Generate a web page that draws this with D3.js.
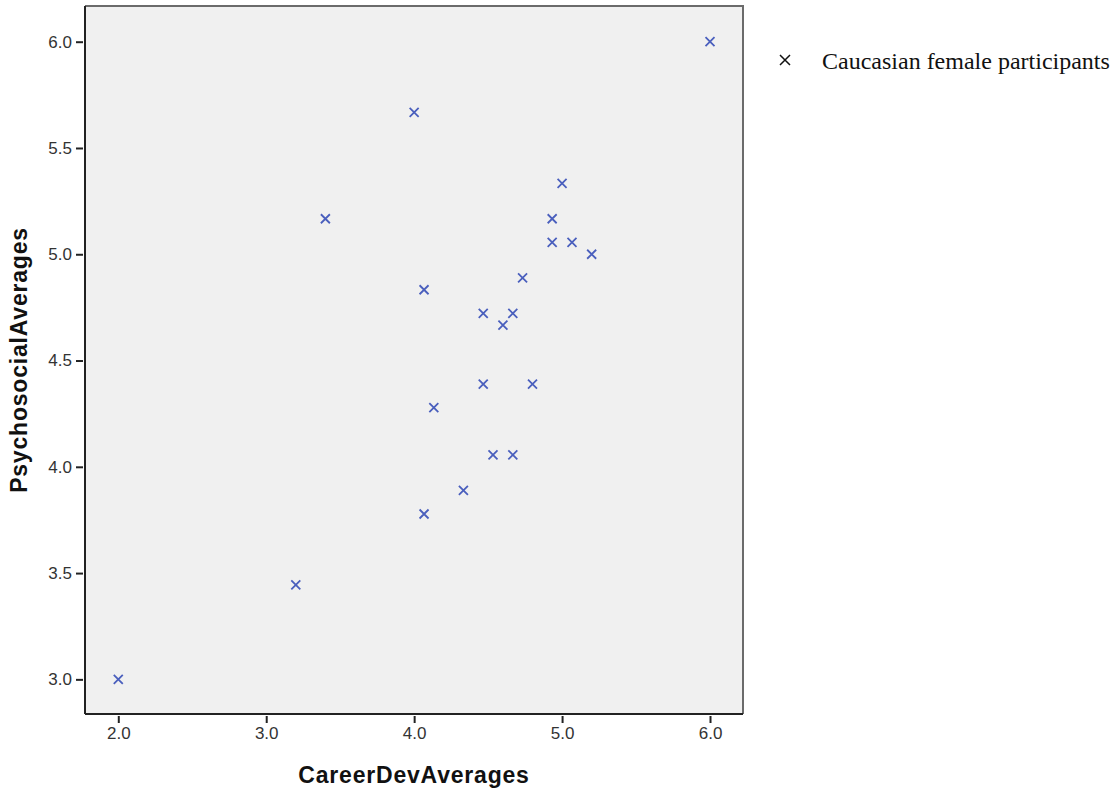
<!DOCTYPE html>
<html>
<head>
<meta charset="utf-8">
<script src="https://cdn.jsdelivr.net/npm/d3@7"></script>
<style>
  body { margin: 0; background: #fff; }
</style>
</head>
<body>
<div id="chart"></div>
<script>
// CareerDev vs Psychosocial averages, Caucasian female participants
const careerDev = [2.0, 3.2, 3.4, 4.0, 4.067, 4.133, 4.067, 4.333, 4.467, 4.467, 4.533,
                   4.6, 4.667, 4.667, 4.733, 4.8, 4.933, 4.933, 5.0, 5.067, 5.2, 6.0]
const psychosocial = [3.0, 3.444, 5.167, 5.667, 4.833, 4.278, 3.778, 3.889, 4.722, 4.389, 4.056,
                      4.667, 4.722, 4.056, 4.889, 4.389, 5.167, 5.056, 5.333, 5.056, 5.0, 6.0]
const xTicks = [2.0, 3.0, 4.0, 5.0, 6.0]
const yTicks = [3.0, 3.5, 4.0, 4.5, 5.0, 5.5, 6.0]
const legendLabel = "Caucasian female participants"

let width = 1118, height = 792
let plot = {left: 85, top: 6, right: 743, bottom: 714}

let svg = d3.select("#chart").append("svg")
    .attr("width", width)
    .attr("height", height)

let xScale = d3.scaleLinear().domain([1.775, 6.223]).range([plot.left, plot.right])
let yScale = d3.scaleLinear().domain([2.837, 6.168]).range([plot.bottom, plot.top])

// plot background
svg.append("rect")
    .attr("x", plot.left).attr("y", plot.top)
    .attr("width", plot.right - plot.left).attr("height", plot.bottom - plot.top)
    .style("fill", "#f0f0f0")

// top / right frame (grey)
svg.append("path")
    .attr("d", "M" + plot.left + "," + plot.top + "H" + plot.right + "V" + plot.bottom)
    .style("fill", "none").style("stroke", "#6b6b6b").style("stroke-width", 2)

let xAxis = svg.append("g")
    .attr("transform", "translate(0," + plot.bottom + ")")
    .call(d3.axisBottom(xScale).tickValues(xTicks).tickFormat(d3.format(".1f")).tickSize(9).tickPadding(4))
let yAxis = svg.append("g")
    .attr("transform", "translate(" + plot.left + ",0)")
    .call(d3.axisLeft(yScale).tickValues(yTicks).tickFormat(d3.format(".1f")).tickSize(9).tickPadding(4))

for (const ax of [xAxis, yAxis]) {
    ax.attr("font-size", null)
    ax.select(".domain").style("stroke", "#222").style("stroke-width", 2)
    ax.selectAll(".tick line").style("stroke", "#222").style("stroke-width", 2)
    ax.selectAll(".tick text")
        .style("font-family", "'Liberation Sans', Arial, sans-serif")
        .style("font-size", "17px")
        .style("fill", "#333")
}
xAxis.select(".domain").attr("d", "M" + plot.left + ",0H" + plot.right)
yAxis.select(".domain").attr("d", "M0," + plot.top + "V" + plot.bottom)
// ticks sit outside the frame only partly
xAxis.selectAll(".tick line").attr("y1", 2)
yAxis.selectAll(".tick line").attr("x1", -2)

// points as x markers
let pts = careerDev.map((c, i) => [c, psychosocial[i]])
let s = 4.5
svg.append("g").selectAll("path")
    .data(pts)
    .enter()
    .append("path")
    .attr("transform", d => "translate(" + xScale(d[0]) + "," + yScale(d[1]) + ")")
    .attr("d", "M" + (-s) + "," + (-s) + "L" + s + "," + s + "M" + (-s) + "," + s + "L" + s + "," + (-s))
    .style("stroke", "#4a5fbd")
    .style("stroke-width", 1.8)
    .style("fill", "none")

// axis titles
svg.append("text")
    .attr("x", (plot.left + plot.right) / 2).attr("y", 783)
    .attr("text-anchor", "middle")
    .style("font-family", "'Liberation Sans', Arial, sans-serif")
    .style("font-weight", "bold").style("font-size", "23px")
    .style("letter-spacing", "0.8px")
    .style("fill", "#111")
    .text("CareerDevAverages")

svg.append("text")
    .attr("transform", "translate(27," + ((plot.top + plot.bottom) / 2) + ")rotate(-90)")
    .attr("text-anchor", "middle")
    .style("font-family", "'Liberation Sans', Arial, sans-serif")
    .style("font-weight", "bold").style("font-size", "23px")
    .style("letter-spacing", "0.8px")
    .style("fill", "#111")
    .text("PsychosocialAverages")

// legend
let lg = svg.append("g").attr("transform", "translate(785,60)")
lg.append("path")
    .attr("d", "M-5,-5L5,5M-5,5L5,-5")
    .style("stroke", "#111").style("stroke-width", 1.5).style("fill", "none")
lg.append("text")
    .attr("x", 37).attr("y", 9)
    .style("font-family", "'Liberation Serif', 'Times New Roman', serif")
    .style("font-size", "24px")
    .style("fill", "#111")
    .text(legendLabel)
</script>
</body>
</html>
